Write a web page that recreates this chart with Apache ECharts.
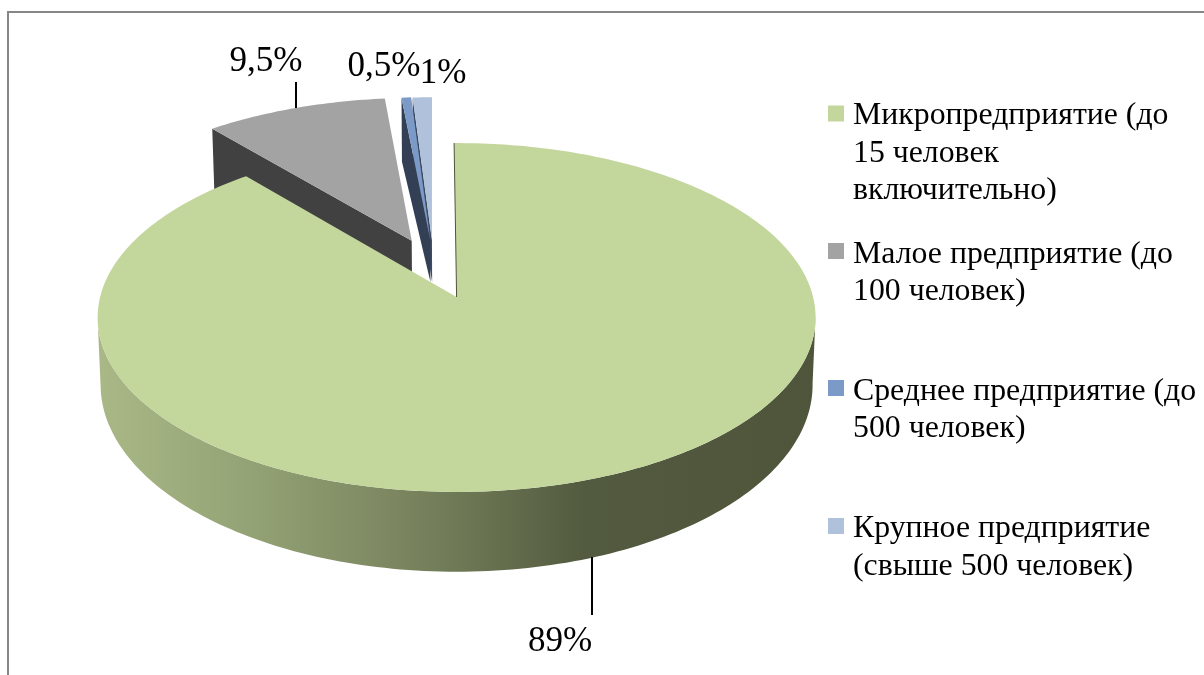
<!DOCTYPE html>
<html><head><meta charset="utf-8">
<style>html,body{margin:0;padding:0;background:#fff}#c{width:1204px;height:675px}</style>
<script src="https://cdn.jsdelivr.net/npm/echarts@6/dist/echarts.min.js"></script>
</head><body><div id="c"></div>
<script>
// ---- chart values ----
const categories = ['Микропредприятие (до\n15 человек\nвключительно)','Малое предприятие (до\n100 человек)','Среднее предприятие (до\n500 человек)','Крупное предприятие\n(свыше 500 человек)'];
const shares = [89, 9.5, 0.5, 1];
const shareLabels = ['89%','9,5%','0,5%','1%'];
const topColors = ['#c3d69b','#a3a3a3','#7c9ac8','#b0c1dc'];
const wallColors = ['#4f553b','#414141','#333f55','#3d4a60'];

// ---- perspective view of the disc (layout) ----
const VIEW = {ax:456.6, ay:297, S:356.5, T:172, k:0.1175, startDeg:-0.45,
  ayb:338, Tb:175.3, kyb:0.25};
const explode = [[0,0],[-0.131,0.340],[-0.077,0.347],[-0.072,0.345]];
const wallExtra = [0,4,0,0];
const zTop = [40,12,22,24], zWall = [30,10,21,20];
const labelPos = [
  {x:560,y:642,line:[[592,557],[592,615]]},
  {x:266,y:62,line:[[296,82],[296,108]]},
  {x:384,y:67,line:null},
  {x:443,y:74,line:null}];
const legendPos = [{sw:105.5,ty:116},{sw:243,ty:254.5},{sw:380,ty:391.5},{sw:518,ty:529}];
const LEG = {swX:828,swS:16,tx:853,lh:37.5,font:'31.8px "Liberation Serif"'};

function topPt(x,y){const d=1+VIEW.k*y;return [VIEW.ax+VIEW.S*x/d, VIEW.ay-VIEW.T*y/d];}
function botPt(x,y,exploded,extra){
  const kx=exploded?VIEW.k:VIEW.kyb, S=exploded?353.5:344.7;
  return [VIEW.ax+S*x/(1+kx*y), VIEW.ayb+extra-VIEW.Tb*y/(1+VIEW.kyb*y)];
}
const rad=d=>(d+VIEW.startDeg)*Math.PI/180;
function disc(deg,o){return [Math.sin(rad(deg))+o[0],Math.cos(rad(deg))+o[1]];}

const total=shares.reduce((a,b)=>a+b,0);
const spans=[];let acc=0;
shares.forEach(v=>{const s=acc/total*360;acc+=v;spans.push([s,acc/total*360]);});

const wallFill=new echarts.graphic.LinearGradient(0,0,1,0,[
 {offset:0,color:'#aab887'},{offset:.2,color:'#95a476'},{offset:.42,color:'#7b8660'},
 {offset:.56,color:'#656f4e'},{offset:.68,color:'#525a3f'},{offset:1,color:'#4f553b'}]);

function arc(from,to,o,fn){const pts=[];const n=Math.max(2,Math.ceil(Math.abs(to-from)));
  for(let i=0;i<=n;i++){const d=from+(to-from)*i/n;const p=disc(d,o);pts.push(fn(p[0],p[1]));}return pts;}

function renderItem(params,api){
  const i=api.value(0);
  const [a,b]=spans[i];
  const o=explode[i];
  const isEx=i>0;
  const bot=(x,y)=>botPt(x,y,isEx,wallExtra[i]);
  const ch=[];
  const apexT=topPt(o[0],o[1]), apexB=bot(o[0],o[1]);
  if(i===0){
    const poly=arc(96.7,263.3,o,topPt).concat(arc(255.5,104.5,o,bot));
    ch.push({type:'polygon',z2:zWall[0],shape:{points:poly},style:{fill:wallFill}});
    const e=disc(a,o);const t=topPt(e[0],e[1]);
    ch.push({type:'polygon',z2:zTop[0],shape:{points:[apexT].concat(arc(a,b,o,topPt))},style:{fill:topColors[0]}});
    ch.push({type:'line',z2:zTop[0]+1,shape:{x1:t[0],y1:t[1],x2:apexT[0],y2:apexT[1]},style:{stroke:wallColors[0],lineWidth:1}});
  } else {
    const e=disc(a,o);
    ch.push({type:'polygon',z2:zWall[i],shape:{points:[apexT,topPt(e[0],e[1]),bot(e[0],e[1]),apexB]},style:{fill:wallColors[i]}});
    ch.push({type:'polygon',z2:zTop[i],shape:{points:[apexT].concat(arc(a,b,o,topPt))},style:{fill:topColors[i]}});
  }
  const lp=labelPos[i];
  if(lp.line){ch.push({type:'polyline',z2:50,shape:{points:lp.line},style:{stroke:'#000',lineWidth:2,fill:null}});}
  ch.push({type:'text',z2:60,style:{text:shareLabels[i],x:lp.x,y:lp.y,textAlign:'center',textVerticalAlign:'middle',font:'35px "Liberation Serif"',fill:'#000'}});
  const lg=legendPos[i];
  ch.push({type:'rect',z2:60,shape:{x:LEG.swX,y:lg.sw,width:LEG.swS,height:LEG.swS},style:{fill:topColors[i]}});
  ch.push({type:'text',z2:60,style:{text:categories[i],x:LEG.tx,y:lg.ty-LEG.lh/2,textAlign:'left',textVerticalAlign:'top',font:LEG.font,lineHeight:LEG.lh,fill:'#000'}});
  return {type:'group',children:ch};
}

const chart=echarts.init(document.getElementById('c'),null,{renderer:'canvas'});
chart.setOption({
  animation:false,
  backgroundColor:'#fff',
  graphic:[{type:'polyline',silent:true,shape:{points:[[8,675],[8,12],[1204,12]]},style:{stroke:'#868686',lineWidth:2,fill:null}}],
  series:[{type:'custom',coordinateSystem:'none',silent:true,clip:false,
    renderItem,
    data:shares.map((v,i)=>[i,v])}]
});
</script></body></html>
